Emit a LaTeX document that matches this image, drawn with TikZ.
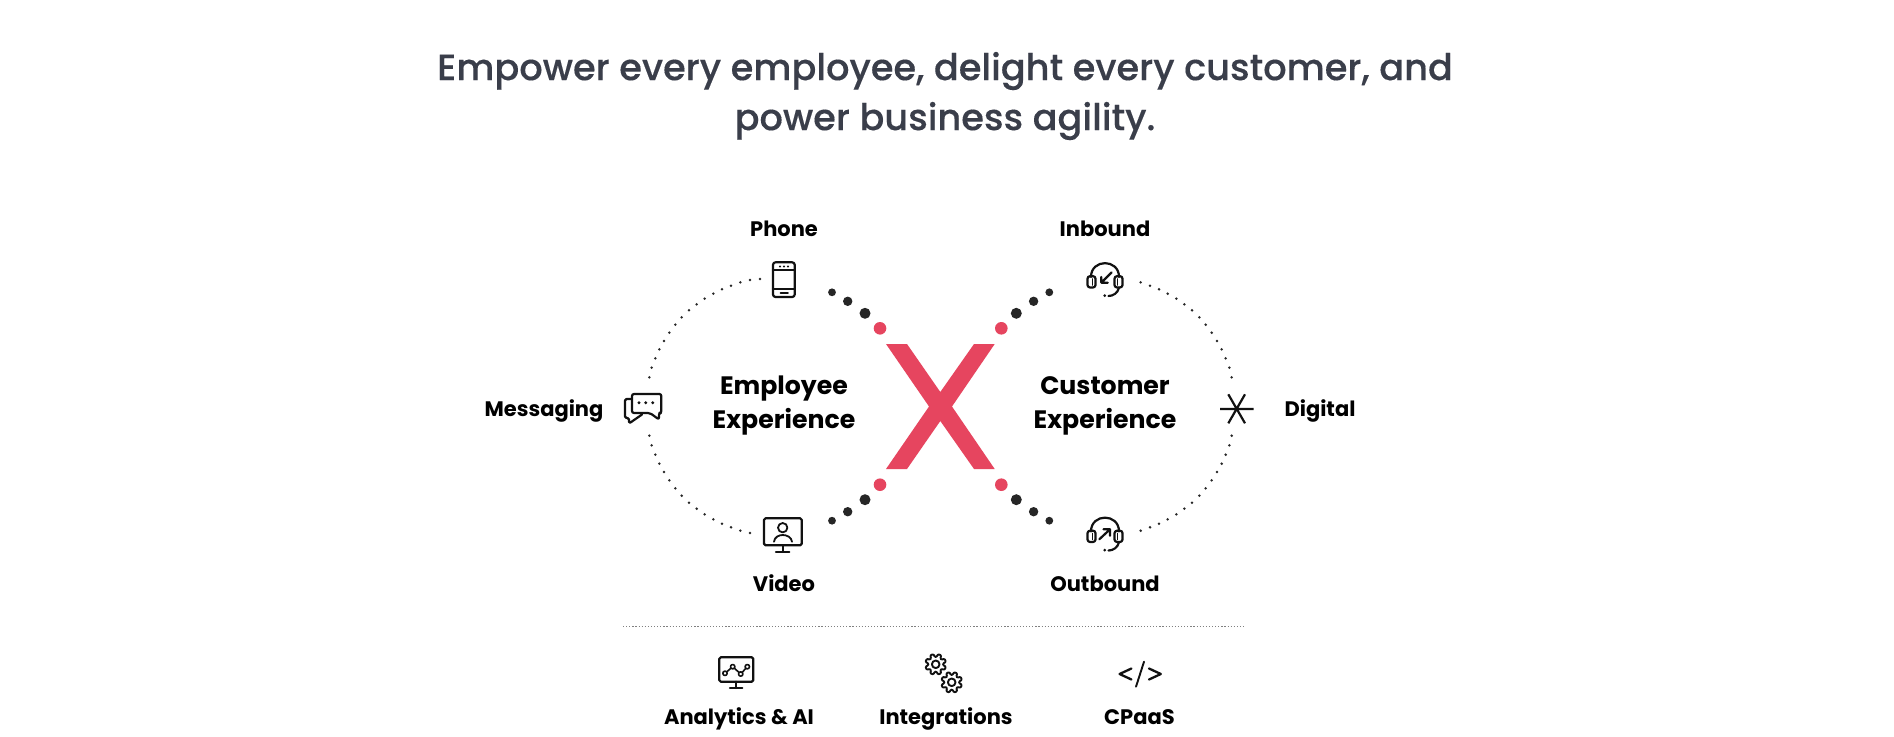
\documentclass[tikz,border=0pt]{standalone}
\usepackage{fontspec}
\setmainfont{Poppins}
\newfontfamily\headf[FakeBold=0.25]{Poppins Medium}
\newfontfamily\lblf{Poppins Bold}
\definecolor{ink}{HTML}{111111}
\definecolor{dotk}{HTML}{262626}
\definecolor{xred}{HTML}{E6455F}
\definecolor{headc}{HTML}{3A3E4A}
\tikzset{
 hd/.style={text=headc,font=\headf\fontsize{36.7}{44}\selectfont,inner sep=0pt},
 lbl/.style={text=black,font=\lblf\fontsize{21}{24}\selectfont,inner sep=0pt,anchor=base},
 big/.style={text=black,font=\lblf\fontsize{25.2}{34}\selectfont,inner sep=0pt,align=center},
 ico/.style={draw=ink,line width=2.2pt,line join=round,line cap=round},
}
\newcommand\headset[1]{%
 \begin{scope}[shift={(1105,#1)}]
 \draw[ico] (-14,0) .. controls (-14,-18.5) and (14,-18.5) .. (14,0);
 \draw[ico,rounded corners=2.5pt] (-17.5,-0.8) rectangle (-9.5,10.5);
 \draw[ico,rounded corners=2.5pt] (17.5,-0.8) rectangle (9.5,10.5);
 \draw[ico,line width=1.7pt] (-12.5,2) -- (-12.5,8) (12.5,2) -- (12.5,8);
 \draw[ico] (14,10.5) .. controls (13,16) and (8,19) .. (3.5,19);
 \fill[ink] (-0.3,18.7) circle (1.5);
 \end{scope}}
\newcommand\gear[2]{%
 \draw[ico,line width=1.9pt,rounded corners=1pt] ({#1+7.4*cos(7.5)},{#2+7.4*sin(7.5)})
   foreach \a in {0,45,...,315} {
    -- ({#1+10.5*cos(\a+12.5)},{#2+10.5*sin(\a+12.5)}) -- ({#1+10.5*cos(\a+32.5)},{#2+10.5*sin(\a+32.5)}) -- ({#1+7.4*cos(\a+37.5)},{#2+7.4*sin(\a+37.5)}) -- ({#1+7.4*cos(\a+52.5)},{#2+7.4*sin(\a+52.5)})
   } -- cycle;
 \draw[ico,line width=1.9pt] (#1,#2) circle (3.8);}
\def\arclist{811/247,783/257,756/268,730/281,704/296,680/313,657/331,635/352,616/374,598/398,582/423,568/448,556/475,545/503,538/532}
\begin{document}
\begin{tikzpicture}[x=1pt,y=-1pt]
\useasboundingbox (0,0) rectangle (1894,736);
\fill[white] (0,0) rectangle (1894,736);
% heading
\node[hd] (h1) at (945,71) {Empower every employee, delight every customer, and};
\node[hd] (h2) at (945,121) {power business agility.};
% X
\fill[xred] (886,344) -- (907,344) -- (940.3,392) -- (974,344) -- (994.7,344) -- (952,406.5) -- (994.7,469) -- (974,469) -- (940.3,421) -- (907,469) -- (886,469) -- (929,406.5) -- cycle;
% large dots
\foreach \sx/\sy in {0/0,1/0,0/1,1/1}{
 \foreach \px/\py/\r/\c in {832/292.3/3.9/dotk,847.7/301.3/4.7/dotk,865/313.3/5.5/dotk,880/328.3/6.3/xred}{
  \fill[\c] ({\sx==1 ? 1881.3-\px : \px},{\sy==1 ? 813-\py : \py}) circle (\r);
 }}
% dotted arcs
\foreach \sx/\sy in {0/0,1/0,0/1,1/1}{
 \foreach \X/\Y in \arclist{
  \fill[dotk] ({\sx==1 ? 1881-(470+\X/3) : 470+\X/3},{\sy==1 ? 813-(200+\Y/3) : 200+\Y/3}) circle (1.4);
 }}
\foreach \px/\py in {760/279,750/280,750/533}{\fill[dotk] (\px,\py) circle (1.4);}
% labels
\node[lbl] (phone) at (784,236) {Phone};
\node[lbl] (inbound) at (1105,236) {Inbound};
\node[lbl] (messaging) at (544,416.5) {Messaging};
\node[lbl] (digital) at (1320,416.5) {Digital};
\node[lbl] (video) at (784,591.7) {Video};
\node[lbl] (outbound) at (1105,591.7) {Outbound};
\node[big] (employee) at (784,406) {Employee\\Experience};
\node[big] (customer) at (1105,406) {Customer\\Experience};
\node[lbl] (analytics) at (739,724.5) {Analytics \& AI};
\node[lbl] (integrations) at (946,724.5) {Integrations};
\node[lbl] (cpaas) at (1139.5,724.5) {CPaaS};
% separator
\draw[gray,line width=0.9pt,dash pattern=on 1.2pt off 1.9pt] (623,626.5) -- (1246,626.5);
% phone icon
\draw[ico,rounded corners=2.5pt] (773,262.3) rectangle (794.7,297);
\draw[ico] (773,270.3) -- (794.7,270.3) (773,288.7) -- (794.7,288.7);
\draw[ico,line width=1.6pt] (780.5,292.9) -- (788,292.9);
\foreach \px in {780,784,788}{\fill[ink] (\px,266.5) circle (1.1);}
% messaging icon
\draw[ico,rounded corners=2pt] (632,394) -- (661.3,394) -- (661.3,413) -- (659,413) -- (659,419.5) -- (650,413) -- (632,413) -- cycle;
\draw[ico,rounded corners=1.5pt] (631,399) -- (625,399) -- (625,418) -- (629,418) -- (629,423.5) -- (642,414.5);
\foreach \px in {639,645.7,652.7}{\fill[ink] (\px,402.7) circle (1.6);}
% headsets
\headset{277}
\draw[ico] (1111.7,272.3) -- (1101.3,282.7) (1101.3,277) -- (1101.3,282.7) -- (1107.7,282.7);
\headset{531.5}
\draw[ico] (1099.3,539.3) -- (1110,529.3) (1103.5,529.3) -- (1110,529.3) -- (1110,535.7);
% digital icon
\draw[ico,line cap=butt] (1220,409) -- (1253.7,409) (1228.3,394.3) -- (1245,423.3) (1245,394.3) -- (1228.3,423.3);
% video icon
\draw[ico,rounded corners=1.5pt] (764,518.3) rectangle (801.7,545.3);
\draw[ico] (782.7,545.3) -- (782.7,551.7) (776,551.7) -- (789.3,551.7);
\draw[ico,line width=1.8pt] (782.7,527.7) circle (4.7);
\draw[ico,line width=1.8pt] (774,541.7) .. controls (774.5,537) and (779,535) .. (782.7,535) .. controls (786.5,535) and (791.5,537) .. (792,541.7);
% analytics icon
\draw[ico,rounded corners=1.5pt] (719.3,657.3) rectangle (753.3,681.7);
\draw[ico] (736,681.7) -- (736,688) (730,688) -- (742.3,688);
\draw[ico,line width=1.6pt] (725,673.3) -- (732.7,666.7) -- (740.7,674) -- (747.3,666.7);
\foreach \px/\py in {725/673.3,732.7/666.7,740.7/674,747.3/666.7}{\draw[ico,line width=1.6pt,fill=white] (\px,\py) circle (2.2);}
% gears
\gear{935.7}{664.3}
\gear{951.7}{682.3}
% code icon
\draw[ico,line width=2.3pt] (1131.4,668.5) -- (1119.6,674) -- (1131.4,679.5) (1149,668.5) -- (1160.8,674) -- (1149,679.5);
\draw[ico,line width=1.9pt] (1144,661.7) -- (1136,686.7);
\end{tikzpicture}
\end{document}
